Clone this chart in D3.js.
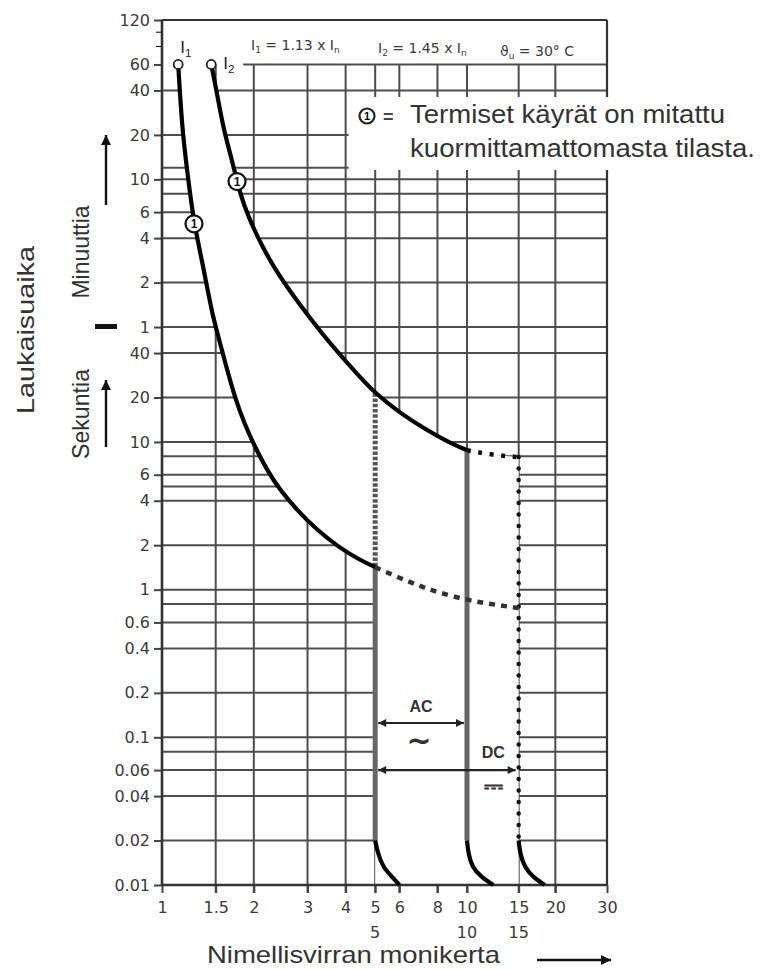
<!DOCTYPE html>
<html>
<head>
<meta charset="utf-8">
<script src="https://d3js.org/d3.v7.min.js"></script>
<style>
  body { margin: 0; background: #fff; }
  svg { display: block; font-family: "Liberation Sans", Arial, sans-serif; }
</style>
</head>
<body>
<svg id="chart" width="762" height="970"></svg>
<script>
// Tick values (x: multiple of rated current, y: trip time in seconds).
var xTicks = [1, 1.5, 2, 3, 4, 5, 6, 8, 10, 15, 20, 30];
var xTicksSecondRow = [5, 10, 15];
var yTicks = [7200, 3600, 2400, 1200, 600, 360, 240, 120, 60, 40, 20, 10, 6, 4,
              2, 1, 0.6, 0.4, 0.2, 0.1, 0.06, 0.04, 0.02, 0.01];
var yTickLabels = ['120', '60', '40', '20', '10', '6', '4', '2', '1', '40', '20',
                   '10', '6', '4', '2', '1', '0.6', '0.4', '0.2', '0.1', '0.06',
                   '0.04', '0.02', '0.01'];
var yMinorTicks = [6000, 4800];
var xGrid = [1.5, 2, 3, 4, 5, 6, 8, 10, 15, 20];
var yGrid = [2400, 1200, 720, 600, 480, 360, 240, 120, 60, 40, 20, 10, 8, 6, 5,
             4, 2, 1, 0.8, 0.6, 0.4, 0.2, 0.1, 0.08, 0.06, 0.04, 0.02];

// Curves as [multiple, seconds].
var curveI1 = [[1.13, 3600], [1.163, 1355], [1.208, 693], [1.273, 300],
               [1.353, 170], [1.458, 74.6], [1.526, 52.9], [1.609, 34.8],
               [1.735, 19.8], [1.872, 13.0], [2.018, 9.24], [2.21, 6.45],
               [2.437, 4.72], [2.771, 3.46], [3.223, 2.53], [3.834, 1.91],
               [4.459, 1.586], [5, 1.42]];
var curveI1Dashed = [[5, 1.42], [6, 1.2], [7, 1.06], [8, 0.96], [10, 0.85],
                     [12, 0.8], [15, 0.75]];
var curveI2 = [[1.45, 3600], [1.515, 2301], [1.585, 1355], [1.696, 810],
               [1.762, 580], [1.843, 414], [2.049, 244], [2.383, 139],
               [2.835, 84.5], [3.297, 56.3], [3.834, 38.8], [4.459, 27.5],
               [5, 21.4], [6.03, 15.7], [7.39, 12.0], [8.8, 9.83], [10, 8.8]];
var curveI2Dashed = [[10, 8.8], [12, 8.2], [15, 7.9]];
var tail5 = [[5, 0.02], [5.1, 0.0165], [5.3, 0.0132], [5.7, 0.0113], [6.0, 0.01]];
var tail10 = [[10, 0.02], [10.1, 0.0165], [10.4, 0.0132], [11.2, 0.0113],
              [12.3, 0.01]];
var tail15 = [[15, 0.02], [15.15, 0.0165], [15.7, 0.0132], [16.8, 0.0113],
              [18.4, 0.01]];
var markerPoints = [[1.273, 300], [1.762, 580]];
var startPoints = [[1.13, 3600], [1.45, 3600]];
var acRange = [5, 10, 0.125];
var dcRange = [5, 15, 0.06];

var svg = d3.select('#chart');
var x = d3.scaleLog().domain([1, 10, 30]).range([162, 467, 607]);
var y = d3.scaleLog().domain([0.01, 7200]).range([885, 20]);
var gridColor = '#4d4d4d';
var tickFont = '"DejaVu Sans", sans-serif';

var defs = svg.append('defs');
defs.append('marker').attr('id', 'head').attr('viewBox', '0 0 10 10')
    .attr('refX', 10).attr('refY', 5).attr('markerWidth', 12)
    .attr('markerHeight', 8).attr('markerUnits', 'userSpaceOnUse')
    .attr('orient', 'auto-start-reverse')
  .append('path').attr('d', 'M0,0L10,5L0,10Z').attr('fill', '#222');
defs.append('marker').attr('id', 'headBig').attr('viewBox', '0 0 10 10')
    .attr('refX', 10).attr('refY', 5).attr('markerWidth', 16)
    .attr('markerHeight', 10).attr('markerUnits', 'userSpaceOnUse')
    .attr('orient', 'auto-start-reverse')
  .append('path').attr('d', 'M0,0L10,5L0,10Z').attr('fill', '#111');

// Grid.
var grid = svg.append('g').attr('stroke', gridColor).attr('stroke-width', 2);
grid.selectAll('.hgrid').data(yGrid).join('line')
    .attr('x1', x(1)).attr('x2', x(30))
    .attr('y1', function(d) { return y(d); })
    .attr('y2', function(d) { return y(d); });
grid.append('line')
    .attr('x1', x(1.45) + 32).attr('x2', x(30))
    .attr('y1', y(3600)).attr('y2', y(3600));
grid.selectAll('.vgrid').data(xGrid).join('line')
    .attr('y1', y(3600)).attr('y2', y(0.01) + 8)
    .attr('x1', function(d) { return x(d); })
    .attr('x2', function(d) { return x(d); });

var line = d3.line()
    .x(function(d) { return x(d[0]); })
    .y(function(d) { return y(d[1]); })
    .curve(d3.curveBasis);

// White mask over the band between the curves.
function samplePath(pts, n) {
  var p = svg.append('path').attr('d', line(pts));
  var node = p.node(), len = node.getTotalLength(), out = [];
  for (var i = 0; i <= n; i++) {
    var q = node.getPointAtLength(len * i / n);
    out.push([q.x, q.y]);
  }
  p.remove();
  return out;
}
var upperPx = samplePath(curveI2, 200).concat(samplePath(curveI2Dashed, 30));
var lowerPx = samplePath(curveI1, 200).reverse();
var maskPx = upperPx.concat([[x(15), y(0.01)], [x(5), y(0.01)]], lowerPx);
svg.append('path').attr('d', 'M' + maskPx.join('L') + 'Z').attr('fill', '#fff');

// Axes.
var yAxis = svg.append('g').attr('transform', 'translate(' + x(1) + ',0)')
    .call(d3.axisLeft(y).tickValues(yTicks).tickSize(8)
        .tickFormat(function(d, i) { return yTickLabels[i]; }));
svg.append('g').attr('transform', 'translate(' + x(1) + ',0)')
    .call(d3.axisLeft(y).tickValues(yMinorTicks).tickSize(6).tickFormat(''))
    .call(function(g) { g.select('.domain').remove(); });
var xAxis = svg.append('g').attr('transform', 'translate(0,' + y(0.01) + ')')
    .call(d3.axisBottom(x).tickValues(xTicks).tickSize(8)
        .tickFormat(function(d) { return String(d); }));
[yAxis, xAxis].forEach(function(g) {
  g.select('.domain').remove();
  g.selectAll('.tick line').attr('stroke', '#444').attr('stroke-width', 2);
  g.selectAll('.tick text').attr('font-family', tickFont)
      .attr('font-size', 16).attr('fill', '#3a3a3a');
});
yAxis.selectAll('.tick text').attr('x', -12);
xAxis.selectAll('.tick text').attr('y', 17);
svg.append('g').selectAll('text').data(xTicksSecondRow).join('text')
    .attr('x', function(d) { return x(d); }).attr('y', y(0.01) + 53)
    .attr('text-anchor', 'middle').attr('font-family', tickFont)
    .attr('font-size', 16).attr('fill', '#3a3a3a').text(function(d) { return d; });

// Borders.
var frame = svg.append('g').attr('stroke', '#333').attr('fill', 'none');
frame.append('line').attr('x1', x(1)).attr('x2', x(1))
    .attr('y1', y(7200)).attr('y2', y(0.01)).attr('stroke-width', 2.6);
frame.append('line').attr('x1', x(1)).attr('x2', x(30))
    .attr('y1', y(0.01)).attr('y2', y(0.01)).attr('stroke-width', 2.6);
frame.append('line').attr('x1', x(30)).attr('x2', x(30))
    .attr('y1', y(7200)).attr('y2', y(0.01)).attr('stroke-width', 2.2);
frame.append('line').attr('x1', x(1)).attr('x2', x(30))
    .attr('y1', y(7200)).attr('y2', y(7200)).attr('stroke-width', 2.2);

// Legend box covering the grid.
svg.append('rect').attr('x', x(4) + 3).attr('y', 97)
    .attr('width', 762 - x(4)).attr('height', 73).attr('fill', '#fff');

// Vertical limits.
svg.append('line').attr('x1', x(5)).attr('x2', x(5))
    .attr('y1', y(21.4)).attr('y2', y(1.42))
    .attr('stroke', '#555').attr('stroke-width', 5).attr('stroke-dasharray', '3.5,1.8');
svg.append('line').attr('x1', x(5)).attr('x2', x(5))
    .attr('y1', y(1.42)).attr('y2', y(0.02))
    .attr('stroke', '#666').attr('stroke-width', 5);
svg.append('line').attr('x1', x(10)).attr('x2', x(10))
    .attr('y1', y(8.8)).attr('y2', y(0.02))
    .attr('stroke', '#666').attr('stroke-width', 5);
svg.append('line').attr('x1', x(15)).attr('x2', x(15))
    .attr('y1', y(7.9)).attr('y2', y(0.02))
    .attr('stroke', '#111').attr('stroke-width', 4.5)
    .attr('stroke-linecap', 'round').attr('stroke-dasharray', '0,11.5');

// Curves.
svg.append('path').attr('d', line(curveI1Dashed)).attr('fill', 'none')
    .attr('stroke', '#333').attr('stroke-width', 4.5).attr('stroke-dasharray', '6,6');
svg.append('path').attr('d', line(curveI2Dashed)).attr('fill', 'none')
    .attr('stroke', '#111').attr('stroke-width', 4.5).attr('stroke-dasharray', '4,7.5');
[curveI1, curveI2, tail5, tail10, tail15].forEach(function(c) {
  svg.append('path').attr('d', line(c)).attr('fill', 'none')
      .attr('stroke', '#000').attr('stroke-width', 4.2);
});

// Start circles and labels.
svg.append('g').selectAll('circle').data(startPoints).join('circle')
    .attr('cx', function(d) { return x(d[0]); })
    .attr('cy', function(d) { return y(d[1]); })
    .attr('r', 4.5).attr('fill', '#fff').attr('stroke', '#222').attr('stroke-width', 1.8);
function subLabel(sel, main, sub, size) {
  sel.append('tspan').text(main);
  sel.append('tspan').attr('font-size', size * 0.68).attr('dy', size * 0.22).text(sub);
}
subLabel(svg.append('text').attr('x', x(1.13) + 2).attr('y', 53)
    .attr('font-size', 17).attr('fill', '#222'), 'I', '1', 17);
subLabel(svg.append('text').attr('x', x(1.45) + 12).attr('y', y(3600) + 5)
    .attr('font-size', 17).attr('fill', '#222'), 'I', '2', 17);

// Circled "1" markers.
var marks = svg.append('g').selectAll('g').data(markerPoints).join('g')
    .attr('transform', function(d) {
      return 'translate(' + x(d[0]) + ',' + y(d[1]) + ')';
    });
marks.append('circle').attr('r', 8.5).attr('fill', '#fff')
    .attr('stroke', '#111').attr('stroke-width', 2.2);
marks.append('text').attr('text-anchor', 'middle').attr('dy', 4.5)
    .attr('font-size', 12).attr('font-weight', 'bold').attr('fill', '#111').text('1');

// Header formula.
var header = svg.append('text').attr('y', 50).attr('font-family', tickFont)
    .attr('font-size', 14).attr('fill', '#3a3a3a');
function headerPart(xPos, main, sub, rest, sub2) {
  header.append('tspan').attr('x', xPos).text(main);
  header.append('tspan').attr('font-size', 9).attr('dy', 3).text(sub);
  header.append('tspan').attr('dy', -3).text(rest);
  if (sub2) {
    header.append('tspan').attr('font-size', 9).attr('dy', 3).text(sub2);
    header.append('tspan').attr('dy', -3).text('');
  }
}
headerPart(251, 'I', '1', ' = 1.13 x I', 'n');
headerPart(378, 'I', '2', ' = 1.45 x I', 'n');
headerPart(500, '\u03d1', 'u', ' = 30\u00b0 C');

// Legend.
var legendMark = svg.append('g').attr('transform', 'translate(367,116)');
legendMark.append('circle').attr('r', 7.5).attr('fill', '#fff')
    .attr('stroke', '#222').attr('stroke-width', 2.2);
legendMark.append('text').attr('text-anchor', 'middle').attr('dy', 4)
    .attr('font-size', 11).attr('font-weight', 'bold').text('1');
svg.append('text').attr('x', 383).attr('y', 123).attr('font-size', 18)
    .attr('font-weight', 'bold').attr('fill', '#444').text('=');
svg.append('text').attr('x', 410).attr('y', 123).attr('font-size', 25)
    .attr('fill', '#333').attr('textLength', 315).attr('lengthAdjust', 'spacingAndGlyphs')
    .text('Termiset käyrät on mitattu');
svg.append('text').attr('x', 410).attr('y', 157).attr('font-size', 25)
    .attr('fill', '#333').attr('textLength', 345).attr('lengthAdjust', 'spacingAndGlyphs')
    .text('kuormittamattomasta tilasta.');

// AC / DC ranges.
var rangeArrows = svg.append('g').attr('stroke', '#222').attr('stroke-width', 2.2);
[acRange, dcRange].forEach(function(r) {
  rangeArrows.append('line')
      .attr('x1', x(r[0]) + 3).attr('x2', x(r[1]) - 3)
      .attr('y1', y(r[2])).attr('y2', y(r[2]))
      .attr('marker-start', 'url(#head)').attr('marker-end', 'url(#head)');
});
var acMid = Math.sqrt(acRange[0] * acRange[1]);
svg.append('text').attr('x', x(acMid)).attr('y', y(acRange[2]) - 11)
    .attr('text-anchor', 'middle').attr('font-size', 16).attr('font-weight', 'bold')
    .attr('fill', '#333').text('AC');
svg.append('text').attr('x', x(acMid) - 2).attr('y', y(acRange[2]) + 28)
    .attr('text-anchor', 'middle').attr('font-family', tickFont)
    .attr('font-size', 30).attr('font-weight', 'bold')
    .attr('fill', '#333').text('~');
svg.append('text').attr('x', x(12.3)).attr('y', y(dcRange[2]) - 12)
    .attr('text-anchor', 'middle').attr('font-size', 16).attr('font-weight', 'bold')
    .attr('fill', '#333').text('DC');
svg.append('text').attr('x', x(12.3)).attr('y', y(dcRange[2]) + 24)
    .attr('text-anchor', 'middle').attr('font-family', tickFont)
    .attr('font-size', 24).attr('font-weight', 'bold').attr('fill', '#333').text('\u2393');

// Axis titles.
function vText(cx, cy, str, len) {
  svg.append('text').attr('transform', 'translate(' + cx + ',' + cy + ') rotate(-90)')
      .attr('text-anchor', 'middle').attr('font-size', 24).attr('fill', '#333')
      .attr('textLength', len).attr('lengthAdjust', 'spacingAndGlyphs').text(str);
}
vText(34, 330, 'Laukaisuaika', 168);
vText(89, 252, 'Minuuttia', 93);
vText(89, 414, 'Sekuntia', 90);
var sideArrows = svg.append('g').attr('stroke', '#111').attr('stroke-width', 2.4);
sideArrows.append('line').attr('x1', 106).attr('x2', 106).attr('y1', 205).attr('y2', 135)
    .attr('marker-end', 'url(#headBig)');
sideArrows.append('line').attr('x1', 106).attr('x2', 106).attr('y1', 447).attr('y2', 380)
    .attr('marker-end', 'url(#headBig)');
svg.append('rect').attr('x', 95).attr('y', 324).attr('width', 22).attr('height', 5)
    .attr('fill', '#111');
svg.append('text').attr('x', 207).attr('y', 963).attr('font-size', 24)
    .attr('fill', '#333').attr('textLength', 293).attr('lengthAdjust', 'spacingAndGlyphs')
    .text('Nimellisvirran monikerta');
svg.append('line').attr('x1', 537).attr('x2', 611).attr('y1', 960).attr('y2', 960)
    .attr('stroke', '#111').attr('stroke-width', 2.4).attr('marker-end', 'url(#headBig)');
</script>
</body>
</html>
